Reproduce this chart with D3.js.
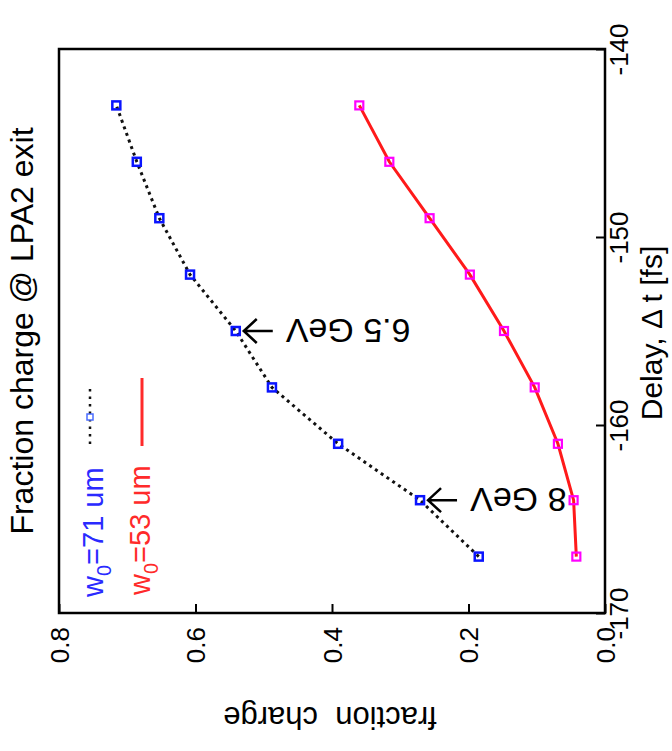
<!DOCTYPE html>
<html>
<head>
<meta charset="utf-8">
<script src="https://cdn.jsdelivr.net/npm/d3@7"></script>
<style>
  html, body { margin: 0; padding: 0; background: #fff; }
  svg text { font-family: "Liberation Sans", Arial, Helvetica, sans-serif; }
</style>
</head>
<body>
<div id="chart"></div>
<script>
// Datos
const delays = [-167, -164, -161, -158, -155, -152, -149, -146, -143];
const fracW71 = [0.185, 0.271, 0.391, 0.488, 0.541, 0.608, 0.653, 0.686, 0.716];
const fracW53 = [0.042, 0.046, 0.069, 0.103, 0.148, 0.198, 0.257, 0.316, 0.360];
const delayTicks = [-170, -160, -150, -140];
const fracTicks = [0.8, 0.6, 0.4, 0.2, 0.0];
const notes = [
  { delay: -155, frac: 0.541, label: '6.5 GeV' },
  { delay: -164, frac: 0.271, label: '8 GeV' }
];

const W = 672, H = 751;
const box = { left: 59, right: 605, top: 49, bottom: 613 };

const svg = d3.select('#chart').append('svg')
  .attr('width', W)
  .attr('height', H);

// La figura está girada: el retardo va en vertical y la fracción en horizontal
const xScale = d3.scaleLinear().domain([0.8, 0]).range([box.left, box.right]);
const yScale = d3.scaleLinear().domain([-170, -140]).range([box.bottom, box.top]);

// Eje de fracción (abajo)
const xAxis = svg.append('g')
  .attr('transform', 'translate(0,' + box.bottom + ')')
  .call(d3.axisBottom(xScale).tickValues(fracTicks).tickSizeInner(-9).tickSizeOuter(0)
    .tickFormat(d3.format('.1f')));
xAxis.select('.domain').remove();
xAxis.selectAll('line').attr('stroke', '#000').attr('stroke-width', 2);
xAxis.selectAll('text')
  .attr('x', 0).attr('y', 0).attr('dy', '0.35em')
  .attr('transform', 'translate(0,14) rotate(-90)')
  .attr('text-anchor', 'end')
  .attr('fill', '#000')
  .style('font-size', '26px');

// Eje de retardo (derecha)
const yAxis = svg.append('g')
  .attr('transform', 'translate(' + box.right + ',0)')
  .call(d3.axisRight(yScale).tickValues(delayTicks).tickSizeInner(-9).tickSizeOuter(0)
    .tickFormat(d => String(d)));
yAxis.select('.domain').remove();
yAxis.selectAll('line').attr('stroke', '#000').attr('stroke-width', 2);
yAxis.selectAll('text')
  .attr('x', 0).attr('y', 0).attr('dy', 0)
  .attr('transform', 'translate(23,0) rotate(-90)')
  .attr('text-anchor', 'middle')
  .attr('fill', '#000')
  .style('font-size', '26px');

// Marco
svg.append('rect')
  .attr('x', box.left).attr('y', box.top)
  .attr('width', box.right - box.left).attr('height', box.bottom - box.top)
  .attr('fill', 'none').attr('stroke', '#000').attr('stroke-width', 2.5);

// Líneas
const line = d3.line()
  .x(d => xScale(d.frac))
  .y(d => yScale(d.delay));

const s71 = delays.map((d, i) => ({ delay: d, frac: fracW71[i] }));
const s53 = delays.map((d, i) => ({ delay: d, frac: fracW53[i] }));

svg.append('path')
  .datum(s53)
  .attr('d', line)
  .attr('fill', 'none')
  .attr('stroke', '#ff1a1a')
  .attr('stroke-width', 3);

svg.append('path')
  .datum(s71)
  .attr('d', line)
  .attr('fill', 'none')
  .attr('stroke', '#111')
  .attr('stroke-width', 3)
  .attr('stroke-dasharray', '3,4');

// Marcadores cuadrados
const sq = 8;
svg.selectAll('.m53')
  .data(s53)
  .enter().append('rect')
  .attr('class', 'm53')
  .attr('x', d => xScale(d.frac) - sq / 2)
  .attr('y', d => yScale(d.delay) - sq / 2)
  .attr('width', sq).attr('height', sq)
  .attr('fill', 'none')
  .attr('stroke', '#ff00ff')
  .attr('stroke-width', 2.2);

svg.selectAll('.m71')
  .data(s71)
  .enter().append('rect')
  .attr('class', 'm71')
  .attr('x', d => xScale(d.frac) - sq / 2)
  .attr('y', d => yScale(d.delay) - sq / 2)
  .attr('width', sq).attr('height', sq)
  .attr('fill', 'none')
  .attr('stroke', '#0a14ff')
  .attr('stroke-width', 2.5);

// Anotaciones (texto invertido con flecha)
notes.forEach(n => {
  const px = xScale(n.frac), py = yScale(n.delay);
  svg.append('path')
    .attr('d', 'M' + (px + 37) + ',' + py + 'H' + (px + 8) +
      'M' + (px + 21) + ',' + (py - 12) + 'L' + (px + 8) + ',' + py + 'L' + (px + 21) + ',' + (py + 12))
    .attr('fill', 'none')
    .attr('stroke', '#000')
    .attr('stroke-width', 2.5);
  svg.append('text')
    .attr('transform', 'translate(' + (px + 50) + ',' + py + ') rotate(180)')
    .attr('dy', '0.36em')
    .attr('text-anchor', 'end')
    .style('font-size', '34px')
    .text(n.label);
});

// Leyenda
function legendText(x, y, color, rest) {
  const t = svg.append('text')
    .attr('transform', 'translate(' + x + ',' + y + ') rotate(-90)')
    .attr('fill', color)
    .style('font-size', '29px');
  t.append('tspan').text('w');
  t.append('tspan').attr('dy', 8).style('font-size', '20px').text('0');
  t.append('tspan').attr('dy', -8).text(rest);
}
legendText(103, 597, '#2a2aff', '=71 um');
legendText(150, 595, '#ff2a2a', '=53 um');

svg.append('line')
  .attr('x1', 90).attr('x2', 90).attr('y1', 389).attr('y2', 446)
  .attr('stroke', '#111').attr('stroke-width', 2.5).attr('stroke-dasharray', '2.5,5');
svg.append('rect')
  .attr('x', 87).attr('y', 414).attr('width', 6).attr('height', 6)
  .attr('fill', '#fff').attr('stroke', '#4a6cff').attr('stroke-width', 1.5);
svg.append('line')
  .attr('x1', 142).attr('x2', 142).attr('y1', 378).attr('y2', 446)
  .attr('stroke', '#ff2a2a').attr('stroke-width', 3);

// Títulos
svg.append('text')
  .attr('transform', 'translate(33,' + ((box.top + box.bottom) / 2) + ') rotate(-90)')
  .attr('text-anchor', 'middle')
  .style('font-size', '32px')
  .text('Fraction charge @ LPA2 exit');

svg.append('text')
  .attr('transform', 'translate(662,333) rotate(-90)')
  .attr('text-anchor', 'middle')
  .style('font-size', '30px')
  .text('Delay, \u0394 t [fs]');

svg.append('text')
  .attr('transform', 'translate(330,707) rotate(180)')
  .attr('text-anchor', 'middle')
  .style('font-size', '31px')
  .style('white-space', 'pre')
  .text('fraction  charge');
</script>
</body>
</html>
